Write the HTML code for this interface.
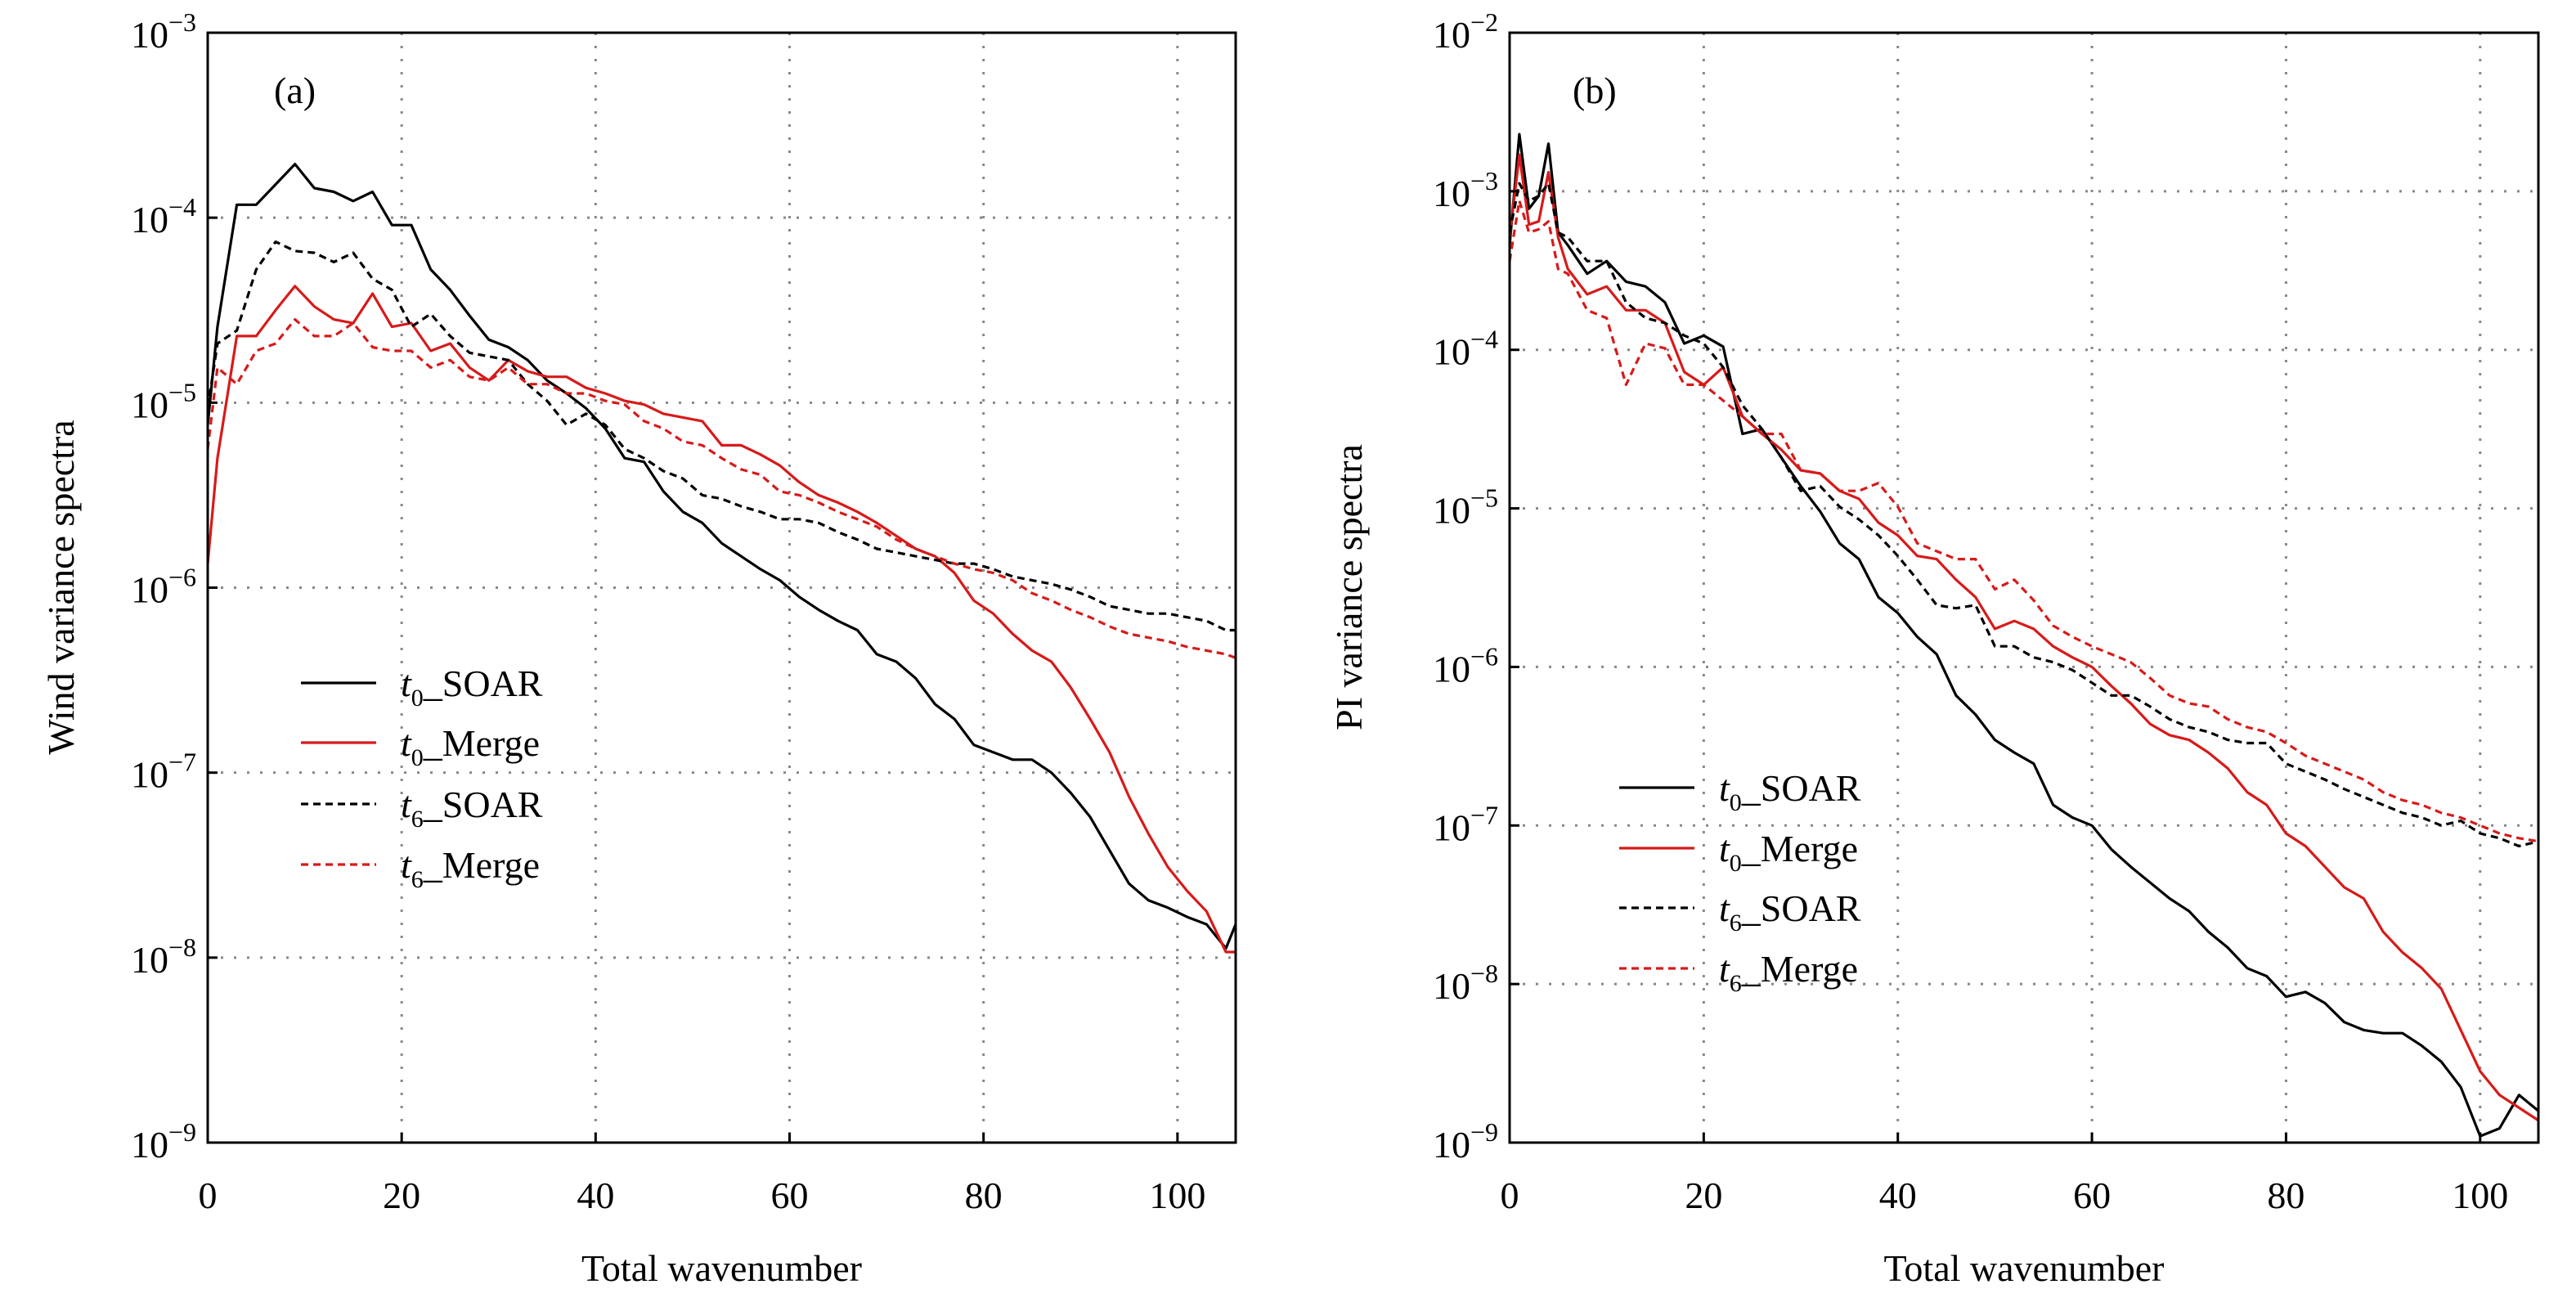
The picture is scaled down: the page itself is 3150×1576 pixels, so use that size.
<!DOCTYPE html>
<html><head><meta charset="utf-8"><style>
html,body{margin:0;padding:0;background:#fff}
svg{display:block;font-family:"Liberation Serif","DejaVu Serif",serif}
svg text{font-family:"Liberation Serif","DejaVu Serif",serif;fill:#000}
</style></head><body>
<svg id="chart" width="3150" height="1576" viewBox="0 0 3150 1576" font-family="Liberation Serif, serif" xmlns="http://www.w3.org/2000/svg"></svg>
<script>
// Panel (a): wind variance spectra, log10 values
const wavenumbersA = [0,1,3,5,7,9,11,13,15,17,19,21,23,25,27,29,31,33,35,37,39,41,43,45,47,49,51,53,55,57,59,61,63,65,67,69,71,73,75,77,79,81,83,85,87,89,91,93,95,97,99,101,103,105,106];
const a_t0_soar = [-5.12,-4.59,-3.93,-3.93,-3.82,-3.71,-3.84,-3.86,-3.91,-3.86,-4.04,-4.04,-4.28,-4.39,-4.53,-4.66,-4.70,-4.77,-4.88,-4.95,-5.03,-5.14,-5.30,-5.32,-5.48,-5.59,-5.65,-5.76,-5.83,-5.90,-5.96,-6.05,-6.12,-6.18,-6.23,-6.36,-6.40,-6.49,-6.63,-6.71,-6.85,-6.89,-6.93,-6.93,-7.00,-7.11,-7.24,-7.42,-7.60,-7.69,-7.73,-7.78,-7.82,-7.95,-7.82];
const a_t0_merge = [-5.87,-5.30,-4.64,-4.64,-4.50,-4.37,-4.48,-4.55,-4.57,-4.41,-4.59,-4.57,-4.72,-4.68,-4.81,-4.88,-4.77,-4.83,-4.86,-4.86,-4.92,-4.95,-4.99,-5.01,-5.06,-5.08,-5.10,-5.23,-5.23,-5.28,-5.34,-5.43,-5.50,-5.54,-5.59,-5.65,-5.72,-5.79,-5.83,-5.92,-6.07,-6.14,-6.25,-6.34,-6.40,-6.54,-6.71,-6.89,-7.13,-7.33,-7.51,-7.64,-7.75,-7.97,-7.97];
const a_t6_soar = [-5.03,-4.68,-4.61,-4.28,-4.13,-4.18,-4.19,-4.24,-4.19,-4.33,-4.39,-4.59,-4.52,-4.64,-4.73,-4.75,-4.77,-4.90,-4.99,-5.12,-5.06,-5.12,-5.25,-5.30,-5.37,-5.41,-5.50,-5.52,-5.56,-5.59,-5.63,-5.63,-5.65,-5.70,-5.74,-5.79,-5.81,-5.83,-5.85,-5.87,-5.87,-5.90,-5.94,-5.96,-5.98,-6.01,-6.05,-6.10,-6.12,-6.14,-6.14,-6.16,-6.18,-6.23,-6.23];
const a_t6_merge = [-5.25,-4.81,-4.90,-4.72,-4.68,-4.55,-4.64,-4.64,-4.57,-4.70,-4.72,-4.72,-4.81,-4.77,-4.86,-4.88,-4.81,-4.90,-4.90,-4.95,-4.95,-4.99,-5.01,-5.10,-5.14,-5.21,-5.23,-5.30,-5.36,-5.39,-5.48,-5.50,-5.54,-5.59,-5.63,-5.67,-5.74,-5.79,-5.83,-5.87,-5.90,-5.92,-5.96,-6.03,-6.07,-6.12,-6.16,-6.21,-6.25,-6.27,-6.29,-6.32,-6.34,-6.36,-6.38];
// Panel (b): PI variance spectra, log10 values
const wavenumbersB = [0,1,2,3,4,5,6,8,10,12,14,16,18,20,22,24,26,28,30,32,34,36,38,40,42,44,46,48,50,52,54,56,58,60,62,64,66,68,70,72,74,76,78,80,82,84,86,88,90,92,94,96,98,100,102,104,106];
const b_t0_soar = [-3.34,-2.64,-3.11,-3.03,-2.70,-3.26,-3.34,-3.52,-3.44,-3.57,-3.60,-3.70,-3.96,-3.91,-3.98,-4.53,-4.50,-4.68,-4.86,-5.02,-5.22,-5.32,-5.56,-5.66,-5.81,-5.92,-6.18,-6.30,-6.46,-6.54,-6.61,-6.87,-6.95,-7.00,-7.15,-7.26,-7.36,-7.46,-7.54,-7.67,-7.77,-7.90,-7.95,-8.08,-8.05,-8.12,-8.24,-8.29,-8.31,-8.31,-8.39,-8.49,-8.65,-8.96,-8.91,-8.70,-8.80];
const b_t0_merge = [-3.29,-2.77,-3.21,-3.19,-2.88,-3.29,-3.49,-3.65,-3.60,-3.75,-3.75,-3.83,-4.14,-4.22,-4.11,-4.42,-4.53,-4.63,-4.76,-4.78,-4.89,-4.94,-5.09,-5.17,-5.30,-5.32,-5.45,-5.56,-5.76,-5.71,-5.76,-5.87,-5.94,-6.00,-6.12,-6.23,-6.36,-6.43,-6.46,-6.54,-6.64,-6.79,-6.87,-7.05,-7.13,-7.26,-7.39,-7.46,-7.67,-7.80,-7.90,-8.03,-8.29,-8.55,-8.70,-8.78,-8.86];
const b_t6_soar = [-3.26,-2.95,-3.06,-3.03,-2.95,-3.26,-3.29,-3.44,-3.44,-3.70,-3.80,-3.83,-3.91,-3.96,-4.11,-4.35,-4.50,-4.68,-4.89,-4.86,-4.99,-5.07,-5.17,-5.30,-5.45,-5.61,-5.63,-5.61,-5.87,-5.87,-5.94,-5.97,-6.02,-6.10,-6.18,-6.18,-6.25,-6.33,-6.38,-6.41,-6.46,-6.48,-6.48,-6.61,-6.66,-6.71,-6.77,-6.82,-6.87,-6.92,-6.95,-7.00,-6.97,-7.05,-7.08,-7.13,-7.10];
const b_t6_merge = [-3.44,-3.06,-3.26,-3.24,-3.19,-3.49,-3.52,-3.75,-3.80,-4.22,-3.96,-3.99,-4.22,-4.22,-4.32,-4.42,-4.53,-4.53,-4.76,-4.78,-4.89,-4.89,-4.84,-4.99,-5.22,-5.27,-5.32,-5.32,-5.51,-5.45,-5.58,-5.74,-5.81,-5.87,-5.92,-5.97,-6.07,-6.18,-6.23,-6.25,-6.33,-6.38,-6.41,-6.48,-6.56,-6.61,-6.66,-6.71,-6.79,-6.84,-6.87,-6.92,-6.95,-7.00,-7.05,-7.08,-7.10];
const xTicks = [0,20,40,60,80,100];
const yExpA = [-3,-4,-5,-6,-7,-8,-9];
const yExpB = [-2,-3,-4,-5,-6,-7,-8,-9];
const legendLabels = ["SOAR","Merge","SOAR","Merge"];
const legendSubs = ["0","0","6","6"];

const NS="http://www.w3.org/2000/svg";
const svg=document.getElementById('chart');
function mk(tag,attrs,parent){const e=document.createElementNS(NS,tag);for(const k in attrs)e.setAttribute(k,attrs[k]);if(tag==='text')e.setAttribute('font-family','Liberation Serif, serif');(parent||svg).appendChild(e);return e;}

const styles=[{c:'#000',d:null},{c:'#d71a1a',d:null},{c:'#000',d:'9 6'},{c:'#d71a1a',d:'9 6'}];

function panel(cfg){
  const g=mk('g',{});
  
  
  const {L,R,T,B,ymax,ymin}=cfg;
  const xs=v=>L+(v-0)/(106-0)*(R-L);
  const ys=v=>T+(ymax-v)/(ymax-ymin)*(B-T);
  xTicks.forEach(t=>{ if(t>0){const l=mk('line',{x1:xs(t),x2:xs(t),y1:T,y2:B,stroke:'#888','stroke-width':3,'stroke-dasharray':'3 13'},g);
    }});
  cfg.yexp.forEach(e=>{ if(e<ymax&&e>ymin){const l=mk('line',{x1:L,x2:R,y1:ys(e),y2:ys(e),stroke:'#888','stroke-width':3,'stroke-dasharray':'3 13'},g);
    }});
  cfg.series.forEach((s,i)=>{
    const n=Math.min(s.length,cfg.x.length);let d='';
    for(let k=0;k<n;k++)d+=(k?'L':'M')+xs(cfg.x[k]).toFixed(1)+','+ys(s[k]).toFixed(1);
    const p=mk('path',{d:d,fill:'none',stroke:styles[i].c,'stroke-width':3.2,'stroke-linejoin':'round'},g);
    if(styles[i].d)p.setAttribute('stroke-dasharray',styles[i].d);
    
    
  });
  const box=mk('rect',{x:L,y:T,width:R-L,height:B-T,fill:'none',stroke:'#000','stroke-width':3},g);
  
  xTicks.forEach(t=>{
    mk('line',{x1:xs(t),x2:xs(t),y1:B,y2:B-12,stroke:'#000','stroke-width':3},g);
    const tx=mk('text',{x:xs(t),y:B+80,'font-size':46,'text-anchor':'middle'},g);tx.textContent=t;
    
  });
  cfg.yexp.forEach(e=>{
    mk('line',{x1:L,x2:L+12,y1:ys(e),y2:ys(e),stroke:'#000','stroke-width':3},g);
    const tx=mk('text',{x:L-14,y:ys(e)+18,'font-size':46,'text-anchor':'end'},g);
    
    const a=mk('tspan',{},tx);a.textContent='10';
    const b=mk('tspan',{dy:-20,'font-size':32},tx);b.textContent='\u2212'+(-e);
  });
  const xt=mk('text',{x:(L+R)/2,y:1566,'font-size':46,'text-anchor':'middle'},g);xt.textContent='Total wavenumber';
  
  const yt=mk('text',{x:0,y:0,'font-size':46,'text-anchor':'middle',transform:`translate(${cfg.ytx},718) rotate(-90)`},g);yt.textContent=cfg.ytitle;
  
  const pl=mk('text',{x:cfg.lblx,y:126,'font-size':46},g);pl.textContent=cfg.label;
  
  cfg.legY.forEach((y,i)=>{
    const ln=mk('line',{x1:cfg.legX,x2:cfg.legX+92,y1:y,y2:y,stroke:styles[i].c,'stroke-width':3.2},g);
    if(styles[i].d)ln.setAttribute('stroke-dasharray',styles[i].d);
    
    const t=mk('text',{x:cfg.legX+122,y:y+16,'font-size':46},g);
    
    const a=mk('tspan',{'font-style':'italic'},t);a.textContent='t';
    const b=mk('tspan',{dy:12,'font-size':30},t);b.textContent=legendSubs[i];
    const c=mk('tspan',{dy:-12},t);c.textContent='_'+legendLabels[i];
  });
}
panel({name:'panel-a-wind',L:254,R:1511,T:40,B:1397,ymax:-3,ymin:-9,yexp:yExpA,x:wavenumbersA,
  series:[a_t0_soar,a_t0_merge,a_t6_soar,a_t6_merge],snames:['line-t0-soar','line-t0-merge','line-t6-soar','line-t6-merge'],
  ytitle:'Wind variance spectra',ytx:90,label:'(a)',lblx:335,legX:368,legY:[835,908,983,1057]});
panel({name:'panel-b-pi',L:1846,R:3104,T:40,B:1397,ymax:-2,ymin:-9,yexp:yExpB,x:wavenumbersB,
  series:[b_t0_soar,b_t0_merge,b_t6_soar,b_t6_merge],snames:['line-t0-soar','line-t0-merge','line-t6-soar','line-t6-merge'],
  ytitle:'PI variance spectra',ytx:1665,label:'(b)',lblx:1923,legX:1980,legY:[963,1037,1110,1184]});
</script>
</body></html>
